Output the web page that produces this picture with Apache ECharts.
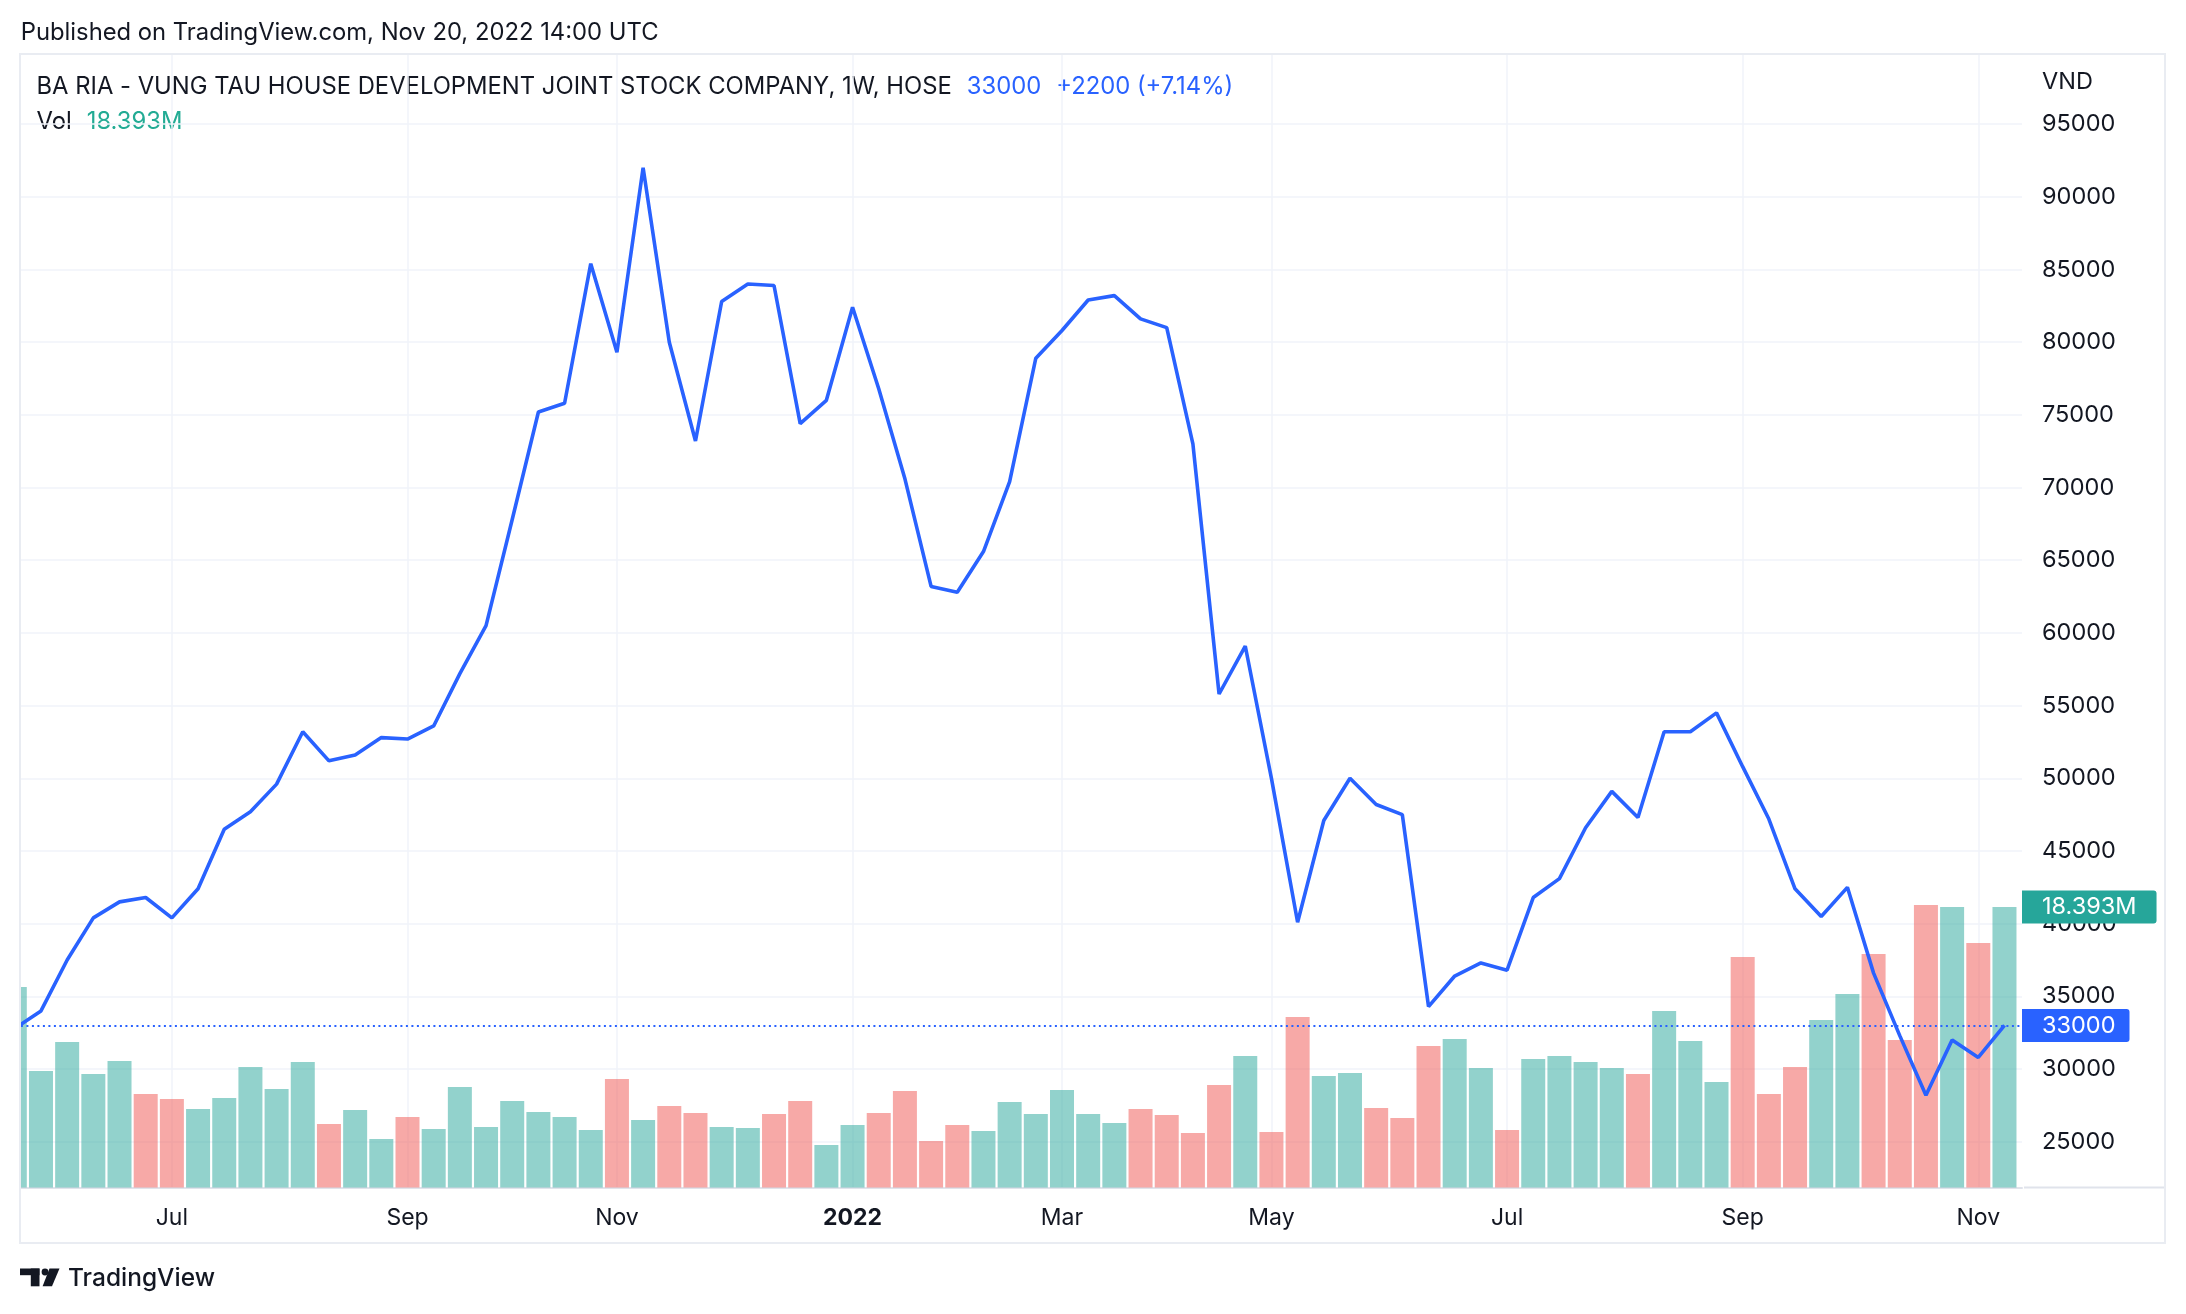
<!DOCTYPE html>
<html><head><meta charset="utf-8">
<script src="https://cdn.jsdelivr.net/npm/echarts@6/dist/echarts.min.js"></script>
<style>html,body{margin:0;padding:0;background:#fff}#c{width:2186px;height:1314px}</style>
</head><body><div id="c"></div>
<script>
// ---------- DATA ----------
const weeks = [
 '2021-05-24','2021-05-31','2021-06-07','2021-06-14','2021-06-21','2021-06-28','2021-07-05','2021-07-12','2021-07-19','2021-07-26',
 '2021-08-02','2021-08-09','2021-08-16','2021-08-23','2021-08-30','2021-09-06','2021-09-13','2021-09-20','2021-09-27','2021-10-04',
 '2021-10-11','2021-10-18','2021-10-25','2021-11-01','2021-11-08','2021-11-15','2021-11-22','2021-11-29','2021-12-06','2021-12-13',
 '2021-12-20','2021-12-27','2022-01-03','2022-01-10','2022-01-17','2022-01-24','2022-02-07','2022-02-14','2022-02-21','2022-02-28',
 '2022-03-07','2022-03-14','2022-03-21','2022-03-28','2022-04-04','2022-04-11','2022-04-18','2022-04-25','2022-05-02','2022-05-09',
 '2022-05-16','2022-05-23','2022-05-30','2022-06-06','2022-06-13','2022-06-20','2022-06-27','2022-07-04','2022-07-11','2022-07-18',
 '2022-07-25','2022-08-01','2022-08-08','2022-08-15','2022-08-22','2022-08-29','2022-09-05','2022-09-12','2022-09-19','2022-09-26',
 '2022-10-03','2022-10-10','2022-10-17','2022-10-24','2022-10-31','2022-11-07','2022-11-14'
];
const closes = [
 32800,34000,37500,40400,41500,41800,40400,42400,46500,47700,
 49600,53200,51200,51600,52800,52700,53600,57200,60500,67800,
 75200,75800,85400,79300,92000,80000,73200,82800,84000,83900,
 74400,76000,82400,76800,70600,63200,62800,65600,70400,78900,
 80800,82900,83200,81600,81000,73000,55800,59100,50000,40100,
 47100,50000,48200,47500,34300,36400,37300,36800,41800,43100,
 46600,49100,47300,53200,53200,54500,50800,47200,42400,40500,
 42500,36600,32300,28200,32000,30800,33000
];
// weekly volume, millions of shares
const volumes = [
 13.15,7.64,9.54,7.44,8.30,6.13,5.80,5.15,5.87,7.90,
 6.46,8.23,4.16,5.08,3.18,4.62,3.84,6.59,3.97,5.67,
 4.95,4.62,3.77,7.11,4.43,5.34,4.89,3.97,3.90,4.82,
 5.67,2.79,4.10,4.89,6.33,3.05,4.10,3.70,5.61,4.82,
 6.39,4.82,4.23,5.15,4.75,3.57,6.72,8.62,3.64,11.18,
 7.31,7.51,5.21,4.56,9.28,9.74,7.84,3.77,8.43,8.62,
 8.23,7.84,7.44,11.57,9.61,6.92,15.12,6.13,7.90,10.98,
 12.69,15.31,9.67,18.52,18.39,16.03,18.393
];
// candle direction of each week (u = close above open, d = below)
const volDir = [
 'u','u','u','u','u','d','d','u','u','u',
 'u','u','d','u','u','d','u','u','u','u',
 'u','u','u','d','u','d','d','u','u','d',
 'd','u','u','d','d','d','d','u','u','u',
 'u','u','u','d','d','d','d','u','d','d',
 'u','u','d','d','d','u','u','d','u','u',
 'u','u','d','u','u','u','d','d','d','u',
 'u','d','d','d','u','d','u'
];
const timeTickIdx = [6,15,23,32,40,48,57,66,75];
const timeTickLabels = ['Jul','Sep','Nov','2022','Mar','May','Jul','Sep','Nov'];
const yearLabels = ['2022'];
const priceMin = 20000, priceMax = 100000, priceStep = 5000;

// ---------- STYLE / LAYOUT ----------
const FONT = 'Inter, "Noto Sans", "DejaVu Sans", sans-serif';
const TEXT = '#131722';
const BLUE = '#2962ff';
const TEAL = '#22ab94';
const UP = 'rgba(38,166,154,0.5)';
const DOWN = 'rgba(239,83,80,0.5)';
const GRIDC = '#f0f3fa';
const W = 2186, H = 1314;
const PLOT_L = 20.9, PLOT_R = 2022, PLOT_T = 54.4, PLOT_B = 1187.5;
const PITCH = 26.18, FIRST_X = 14.8;
const xMin = (PLOT_L - FIRST_X) / PITCH;
const xMax = (PLOT_R - FIRST_X) / PITCH;
// price scale: 95000 at y=124.1, 5000 per 72.69px
const PX_PER_PRICE = 72.69 / 5000;
const yOf = p => 124.1 + (95000 - p) * PX_PER_PRICE;
const priceGridTop = yOf(priceMax), priceGridBot = yOf(priceMin);
const VOL_PX_PER_M = 15.25;
const volMax = (PLOT_B - PLOT_T) / VOL_PX_PER_M;

const last = closes[closes.length - 1], prev = closes[closes.length - 2];
const chg = last - prev, pct = chg / prev * 100;
const lastVol = volumes[volumes.length - 1];

const lineData = closes.map((c, i) => [i, c]);
const barData = volumes.map((v, i) => ({ value: [i, v], itemStyle: { color: volDir[i] === 'u' ? UP : DOWN } }));

const chart = echarts.init(document.getElementById('c'), null, { width: W, height: H });
chart.setOption({
  animation: false,
  backgroundColor: '#ffffff',
  grid: [
    { left: PLOT_L, right: W - PLOT_R, top: priceGridTop, bottom: H - priceGridBot, containLabel: false },
    { left: PLOT_L, right: W - PLOT_R, top: PLOT_T, bottom: H - PLOT_B, containLabel: false }
  ],
  xAxis: [
    { type: 'value', gridIndex: 0, min: xMin, max: xMax, show: false },
    { type: 'value', gridIndex: 1, min: xMin, max: xMax,
      axisLine: { show: true, lineStyle: { color: '#e0e3eb', width: 2 } },
      axisTick: { show: false, customValues: timeTickIdx },
      splitLine: { show: true, lineStyle: { color: GRIDC, width: 1.5 } },
      axisLabel: {
        show: true, customValues: timeTickIdx, margin: 17,
        fontFamily: FONT, fontSize: 23, color: TEXT, lineHeight: 28,
        formatter: v => {
          const k = timeTickIdx.indexOf(Math.round(v));
          const t = k >= 0 ? timeTickLabels[k] : '';
          return yearLabels.indexOf(t) >= 0 ? '{y|' + t + '}' : t;
        },
        rich: { y: { fontFamily: FONT, fontSize: 23, fontWeight: 'bold', color: TEXT, lineHeight: 28 } }
      }
    }
  ],
  yAxis: [
    { type: 'value', gridIndex: 0, position: 'right', min: priceMin, max: priceMax, interval: priceStep,
      axisLine: { show: false }, axisTick: { show: false },
      splitLine: { show: true, showMinLine: false, showMaxLine: false, lineStyle: { color: GRIDC, width: 1.5 } },
      axisLabel: { show: true, showMinLabel: false, showMaxLabel: false, margin: 20, align: 'left',
        fontFamily: FONT, fontSize: 23.5, color: TEXT, padding: [2, 0, 0, 0], formatter: v => String(v) } },
    { type: 'value', gridIndex: 1, min: 0, max: volMax, show: false, splitLine: { show: false } }
  ],
  series: [
    { name: 'Vol', type: 'bar', xAxisIndex: 1, yAxisIndex: 1, data: barData, barWidth: 24, clip: true,
      markLine: { silent: true, symbol: ['none', 'none'], animation: false,
        lineStyle: { color: 'rgba(0,0,0,0)', width: 1, type: 'solid' },
        label: { show: true, position: 'end', distance: 0, formatter: () => lastVol.toFixed(3) + 'M',
          backgroundColor: '#26a69a', color: '#ffffff', fontFamily: FONT, fontSize: 23.5,
          padding: [5, 20, 4, 20], borderRadius: [0, 3, 3, 0] },
        data: [{ yAxis: lastVol }] } },
    { name: 'Close', type: 'line', xAxisIndex: 0, yAxisIndex: 0, data: lineData, showSymbol: false, clip: true,
      lineStyle: { color: BLUE, width: 3.6 }, z: 5,
      markLine: { silent: true, symbol: ['none', 'none'], animation: false,
        lineStyle: { color: BLUE, type: [2, 3.5], width: 2 },
        label: { show: true, position: 'end', distance: 0, formatter: () => String(last),
          backgroundColor: BLUE, color: '#ffffff', fontFamily: FONT, fontSize: 23.5,
          padding: [5, 14, 4, 20], borderRadius: [0, 3, 3, 0] },
        data: [{ yAxis: last }] } }
  ],
  graphic: [
    // white margin left of the plot (hides the part of the first bar outside the pane)
    { type: 'rect', silent: true, z: 100, shape: { x: 0, y: 40, width: 20, height: 1215 }, style: { fill: '#ffffff' } },
    { type: 'rect', silent: true, z: 101, shape: { x: 20, y: 54, width: 2145, height: 1189 },
      style: { fill: 'none', stroke: '#e9ecf2', lineWidth: 2 } },
    { type: 'line', silent: true, shape: { x1: 2024, y1: 1187.5, x2: 2165, y2: 1187.5 },
      style: { stroke: '#e0e3eb', lineWidth: 2 } },
    { type: 'text', silent: true, x: 20.7, y: 32.5, style: { text: 'Published on TradingView.com, Nov 20, 2022 14:00 UTC',
      fill: TEXT, font: '23.8px ' + FONT, textVerticalAlign: 'middle' } },
    { type: 'text', silent: true, x: 36.5, y: 86.5, style: {
      text: '{a|BA RIA - VUNG TAU HOUSE DEVELOPMENT JOINT STOCK COMPANY, 1W, HOSE}{b|' + last + '}{b|' + (chg >= 0 ? '+' : '') + chg + ' (' + (chg >= 0 ? '+' : '') + pct.toFixed(2) + '%)}',
      textVerticalAlign: 'middle',
      rich: { a: { fill: TEXT, fontFamily: FONT, fontSize: 23.8 }, b: { fill: BLUE, fontFamily: FONT, fontSize: 23.8, padding: [0, 0, 0, 15] } } } },
    { type: 'text', silent: true, x: 36.5, y: 121.5, style: {
      text: '{a|Vol}{b|' + lastVol.toFixed(3) + 'M}', textVerticalAlign: 'middle',
      rich: { a: { fill: TEXT, fontFamily: FONT, fontSize: 23.8 }, b: { fill: TEAL, fontFamily: FONT, fontSize: 23.8, padding: [0, 0, 0, 15] } } } },
    { type: 'text', silent: true, x: 2042, y: 82, style: { text: 'VND', fill: TEXT, font: '23.5px ' + FONT, textVerticalAlign: 'middle' } },
    // TradingView logo
    { type: 'rect', silent: true, shape: { x: 20, y: 1268.5, width: 19.5, height: 6.7 }, style: { fill: TEXT } },
    { type: 'rect', silent: true, shape: { x: 30.8, y: 1268.5, width: 8.7, height: 17.8 }, style: { fill: TEXT } },
    { type: 'circle', silent: true, shape: { cx: 45, cy: 1272, r: 3.4 }, style: { fill: TEXT } },
    { type: 'polygon', silent: true, shape: { points: [[49.5, 1268.5], [59.5, 1268.5], [52, 1286.3], [42.6, 1286.3]] }, style: { fill: TEXT } },
    { type: 'text', silent: true, x: 68, y: 1279, style: { text: 'TradingView', fill: TEXT, font: '500 24.5px ' + FONT, textVerticalAlign: 'middle' } }
  ]
});
</script></body></html>
